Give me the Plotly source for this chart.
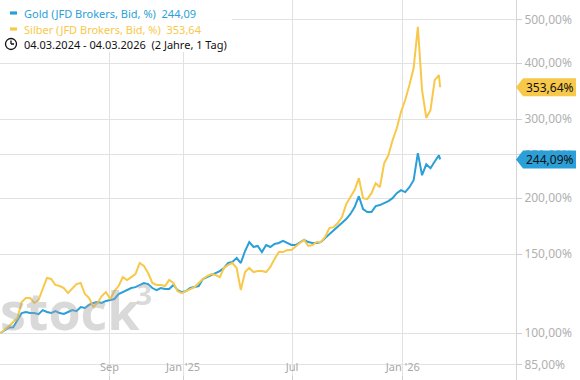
import math
import pandas as pd
import plotly.graph_objects as go

# ---- data (index, start = 100 %) ----
dates = list(pd.date_range("2024-03-04", periods=105, freq="7D").strftime("%Y-%m-%d")) + ["2026-03-04"]

gold = [100.0, 101.5, 102.9, 103.0, 106.9, 110.8, 111.4, 110.8, 110.8, 110.2,
        112.5, 111.4, 110.8, 111.9, 110.8, 110.3, 111.4, 112.5, 111.9, 114.3,
        113.7, 115.5, 116.7, 117.3, 116.7, 117.9, 118.5, 119.1, 122.2, 123.4,
        124.7, 126.0, 126.6, 128.0, 129.3, 128.6, 126.0, 124.7, 126.0, 125.4,
        125.4, 128.0, 124.7, 123.4, 124.0, 126.0, 126.6, 127.3, 132.0, 133.3,
        134.7, 136.1, 137.5, 139.7, 143.3, 144.1, 147.0, 143.3, 152.4, 159.6,
        155.6, 156.4, 151.6, 157.2, 155.6, 158.0, 158.8, 160.5, 158.8, 157.2,
        157.2, 159.6, 161.3, 159.6, 158.8, 158.8, 159.6, 163.0, 166.3, 169.8,
        173.3, 176.9, 179.6, 184.4, 191.0, 202.0, 189.1, 186.2, 186.2, 192.0,
        193.0, 195.0, 197.0, 200.0, 205.2, 208.4, 206.3, 211.6, 219.3, 252.0,
        225.0, 238.0, 233.2, 241.5, 249.3, 244.09]

silver = [100.0, 102.1, 103.7, 105.8, 108.0, 117.3, 119.7, 119.7, 116.7, 118.5,
          126.0, 132.7, 132.0, 128.0, 127.3, 126.0, 122.8, 126.0, 128.6, 129.3,
          122.2, 119.7, 114.3, 116.7, 120.9, 123.4, 119.1, 124.0, 127.3, 133.3,
          131.3, 133.3, 135.4, 143.3, 141.1, 136.1, 129.3, 128.0, 128.0, 127.3,
          131.3, 129.3, 124.0, 122.8, 124.0, 125.4, 126.6, 129.3, 132.0, 134.0,
          135.4, 134.7, 133.3, 139.7, 141.9, 143.3, 139.7, 124.7, 136.8, 139.7,
          136.8, 137.5, 137.5, 136.8, 140.4, 146.2, 151.6, 151.6, 153.2, 153.2,
          155.6, 158.8, 161.3, 156.4, 157.2, 159.6, 159.6, 163.8, 171.5, 172.3,
          176.0, 181.5, 194.0, 201.0, 208.4, 221.6, 200.0, 199.0, 205.2, 216.0,
          211.6, 239.2, 249.3, 269.3, 286.5, 311.4, 331.2, 357.6, 390.2, 482.2,
          348.6, 302.0, 314.6, 366.9, 376.4, 353.64]

x_tickvals = ["2024-09-01", "2025-01-01", "2025-07-01", "2026-01-01"]
x_ticktext = ["Sep", "Jan '25", "Jul", "Jan '26"]
y_tickvals = [85, 100, 150, 200, 250, 300, 400, 500]
y_ticktext = ["85,00%", "100,00%", "150,00%", "200,00%", "250,00%", "300,00%", "400,00%", "500,00%"]

gold_name = "Gold (JFD Brokers, Bid, %)"
silver_name = "Silber (JFD Brokers, Bid, %)"
period_text = "04.03.2024 - 04.03.2026\u00a0\u00a0(2 Jahre, 1 Tag)"

BLUE = "#2a9fd8"
YELLOW = "#f8c84a"
FONT = "Noto Sans"
WM = "rgba(165,165,165,0.42)"


def de(v):
    return f"{v:.2f}".replace(".", ",")


fig = go.Figure()
fig.add_trace(go.Scatter(x=dates, y=gold, mode="lines", line=dict(color=BLUE, width=2), name=gold_name))
fig.add_trace(go.Scatter(x=dates, y=silver, mode="lines", line=dict(color=YELLOW, width=2), name=silver_name))

shapes = []
annotations = []

# watermark "stock3"
annotations.append(dict(xref="paper", yref="paper", x=0, y=0.087, xanchor="left", yanchor="bottom",
                        xshift=-2, showarrow=False, text="stock",
                        font=dict(family="Open Sans", size=52, color=WM, weight="bold")))
annotations.append(dict(xref="paper", yref="paper", x=0, y=1, xanchor="left", yanchor="middle",
                        xshift=134, yshift=-294, showarrow=False, text="3",
                        font=dict(family="Open Sans", size=28, color=WM, weight="bold")))

# legend box
shapes.append(dict(type="rect", xref="paper", yref="paper", x0=0, x1=232 / 516, y0=1 - 52 / 380, y1=1,
                   fillcolor="rgba(255,255,255,0.92)", line=dict(width=0), layer="above"))

legend_rows = [(gold_name, gold[-1], BLUE, 13), (silver_name, silver[-1], YELLOW, 29)]
for name, val, col, yc in legend_rows:
    shapes.append(dict(type="rect", xref="paper", yref="paper", xsizemode="pixel", ysizemode="pixel",
                       xanchor=0, yanchor=1, x0=10, x1=17, y0=-yc - 1.6, y1=-yc + 1.6,
                       fillcolor=col, line=dict(width=0), layer="above"))
    annotations.append(dict(xref="paper", yref="paper", x=0, y=1, xanchor="left", yanchor="middle",
                            xshift=22, yshift=-yc, showarrow=False,
                            text=f"{name}\u00a0\u00a0{de(val)}", font=dict(family=FONT, size=11, color=col)))

# clock icon + period
shapes.append(dict(type="circle", xref="paper", yref="paper", xsizemode="pixel", ysizemode="pixel",
                   xanchor=0, yanchor=1, x0=5.5, x1=16.5, y0=-38.5, y1=-49.5,
                   line=dict(color="#111", width=1.3), layer="above"))
shapes.append(dict(type="path", xref="paper", yref="paper", xsizemode="pixel", ysizemode="pixel",
                   xanchor=0, yanchor=1, path="M11,-44 L11,-40.5 M11,-44 L14,-44",
                   line=dict(color="#111", width=1.3), layer="above"))
annotations.append(dict(xref="paper", yref="paper", x=0, y=1, xanchor="left", yanchor="middle",
                        xshift=22, yshift=-44, showarrow=False, text=period_text,
                        font=dict(family=FONT, size=11, color="#111")))

# last value tags
for val, col in [(silver[-1], YELLOW), (gold[-1], BLUE)]:
    shapes.append(dict(type="path", xref="paper", yref="y", xsizemode="pixel", ysizemode="pixel",
                       xanchor=1, yanchor=val, path="M0,0 L7,9 L60,9 L60,-9 L7,-9 Z",
                       fillcolor=col, line=dict(width=0), layer="above"))
    annotations.append(dict(xref="paper", yref="y", x=1, y=math.log10(val), xanchor="left", yanchor="middle",
                            xshift=8, showarrow=False, text=de(val) + "%",
                            font=dict(family=FONT, size=12, color="#111")))

fig.update_layout(
    width=580, height=380,
    margin=dict(l=0, r=64, t=0, b=0),
    paper_bgcolor="white", plot_bgcolor="white",
    showlegend=False,
    shapes=shapes, annotations=annotations,
    xaxis=dict(type="date", range=["2024-03-03", "2026-07-08"],
               tickvals=x_tickvals, ticktext=x_ticktext,
               showgrid=True, gridcolor="#e2e2e2", gridwidth=1,
               ticks="inside", ticklen=4, tickcolor="#cfcfcf",
               ticklabelposition="outside", ticklabelstandoff=-21, automargin=False,
               tickfont=dict(family=FONT, size=11, color="#a8a8a8"),
               showline=False, zeroline=False),
    yaxis=dict(type="log", side="right", range=[1.8951, 2.7433],
               tickvals=y_tickvals, ticktext=y_ticktext,
               showgrid=True, gridcolor="#e2e2e2", gridwidth=1,
               ticks="outside", ticklen=5, tickcolor="#cfcfcf",
               tickfont=dict(family=FONT, size=12, color="#b0b0b0"),
               showline=True, linecolor="#d5d5d5", zeroline=False, automargin=False),
)

fig.write_html("out.html", config={"displayModeBar": False},
               post_script="document.body.style.margin='0px';document.body.style.padding='0px';")
